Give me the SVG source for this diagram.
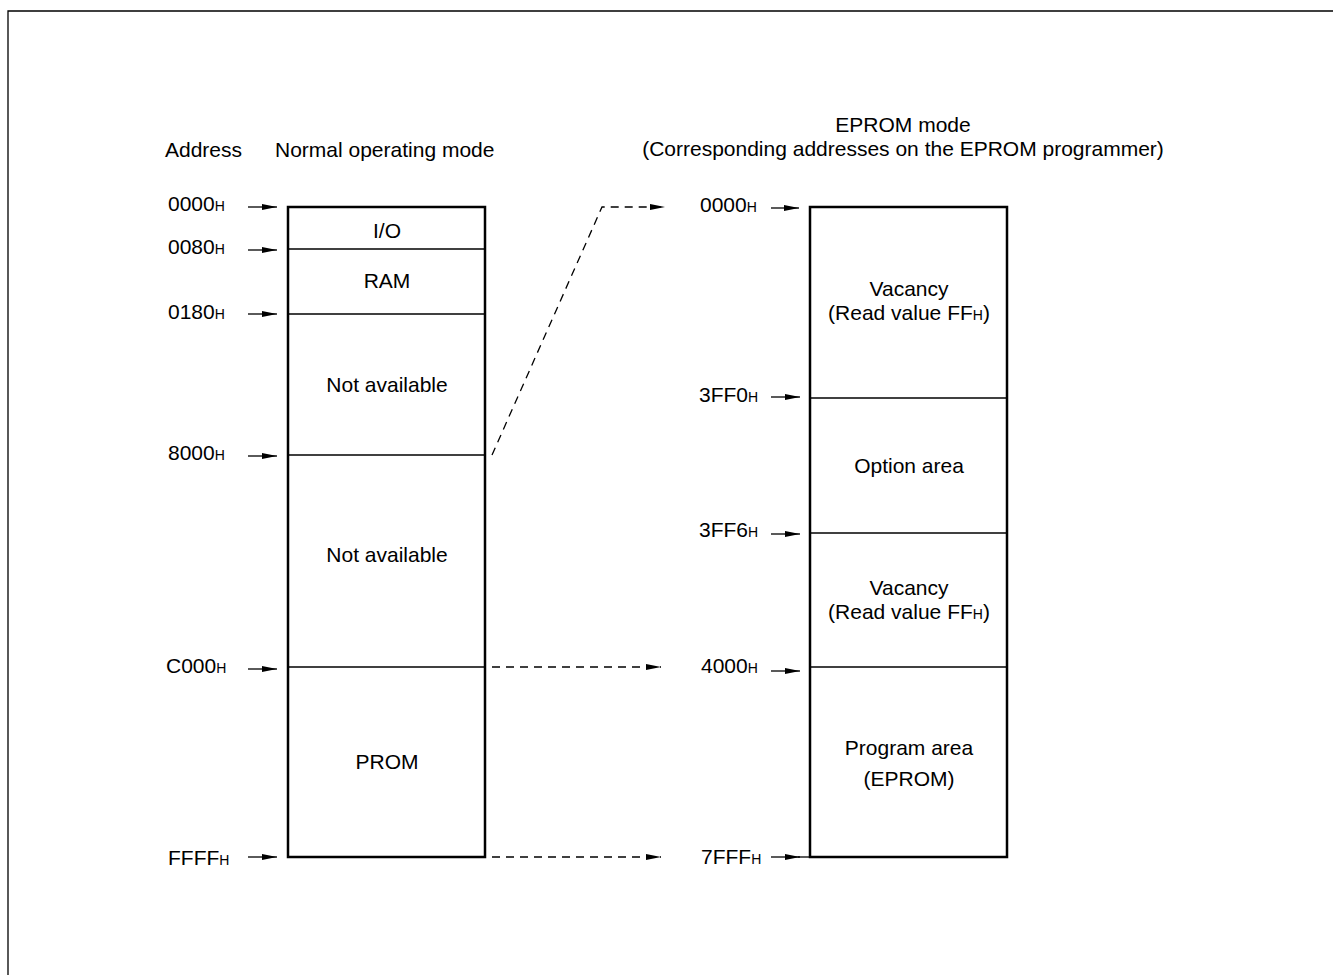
<svg xmlns="http://www.w3.org/2000/svg" width="1333" height="975" viewBox="0 0 1333 975">
<defs>
<style>
text{font-family:"Liberation Sans",Arial,sans-serif;font-size:21px;fill:#000}
.c{text-anchor:middle}
.s{font-size:14px}
.box{fill:#fff;stroke:#000;stroke-width:2.5}
.div{stroke:#000;stroke-width:1.3;fill:none}
.arr{stroke:#000;stroke-width:1.3;fill:none;marker-end:url(#ah)}
.dash{stroke:#000;stroke-width:1.3;fill:none;stroke-dasharray:8,6;marker-end:url(#ah)}
</style>
<marker id="ah" viewBox="0 0 15 7" refX="15" refY="3.5" markerWidth="15" markerHeight="7" markerUnits="userSpaceOnUse" orient="auto">
<path d="M0,0.5 L15,3.5 L0,6.5 Z" fill="#000"/>
</marker>
</defs>
<rect width="1333" height="975" fill="#fff"/>
<path d="M8,975 V11 H1333" fill="none" stroke="#000" stroke-width="1.3"/>

<g id="headers">
<text x="165" y="157">Address</text>
<text x="275" y="157">Normal operating mode</text>
<text class="c" x="903" y="132">EPROM mode</text>
<text class="c" x="903" y="156">(Corresponding addresses on the EPROM programmer)</text>
</g>

<g id="normal-map">
<rect class="box" x="288" y="207" width="197" height="650"/>
<line class="div" x1="288" y1="249" x2="485" y2="249"/>
<line class="div" x1="288" y1="314" x2="485" y2="314"/>
<line class="div" x1="288" y1="455" x2="485" y2="455"/>
<line class="div" x1="288" y1="667" x2="485" y2="667"/>
<text class="c" x="387" y="238">I/O</text>
<text class="c" x="387" y="288">RAM</text>
<text class="c" x="387" y="392">Not available</text>
<text class="c" x="387" y="562">Not available</text>
<text class="c" x="387" y="769">PROM</text>
</g>

<g id="normal-addresses">
<text x="168" y="211">0000<tspan class="s">H</tspan></text>
<text x="168" y="254">0080<tspan class="s">H</tspan></text>
<text x="168" y="319">0180<tspan class="s">H</tspan></text>
<text x="168" y="460">8000<tspan class="s">H</tspan></text>
<text x="166" y="673">C000<tspan class="s">H</tspan></text>
<text x="168" y="865">FFFF<tspan class="s">H</tspan></text>
</g>

<g id="eprom-addresses">
<text x="700" y="212">0000<tspan class="s">H</tspan></text>
<text x="699" y="402">3FF0<tspan class="s">H</tspan></text>
<text x="699" y="537">3FF6<tspan class="s">H</tspan></text>
<text x="701" y="673">4000<tspan class="s">H</tspan></text>
<text x="701" y="864">7FFF<tspan class="s">H</tspan></text>
</g>

<g id="eprom-map">
<rect class="box" x="810" y="207" width="197" height="650"/>
<line class="div" x1="810" y1="398" x2="1007" y2="398"/>
<line class="div" x1="810" y1="533" x2="1007" y2="533"/>
<line class="div" x1="810" y1="667" x2="1007" y2="667"/>
<text class="c" x="909" y="296">Vacancy</text>
<text class="c" x="909" y="320">(Read value FF<tspan class="s">H</tspan>)</text>
<text class="c" x="909" y="473">Option area</text>
<text class="c" x="909" y="595">Vacancy</text>
<text class="c" x="909" y="619">(Read value FF<tspan class="s">H</tspan>)</text>
<text class="c" x="909" y="755">Program area</text>
<text class="c" x="909" y="786">(EPROM)</text>
</g>

<g id="connectors">
<line class="arr" x1="248" y1="207" x2="277" y2="207"/>
<line class="arr" x1="248" y1="250" x2="277" y2="250"/>
<line class="arr" x1="248" y1="314" x2="277" y2="314"/>
<line class="arr" x1="248" y1="456" x2="277" y2="456"/>
<line class="arr" x1="248" y1="669" x2="277" y2="669"/>
<line class="arr" x1="248" y1="857" x2="277" y2="857"/>
<line class="arr" x1="771" y1="208" x2="799" y2="208"/>
<line class="arr" x1="771" y1="397" x2="800" y2="397"/>
<line class="arr" x1="771" y1="534" x2="800" y2="534"/>
<line class="arr" x1="771" y1="671" x2="800" y2="671"/>
<line class="arr" x1="771" y1="857" x2="800" y2="857"/>
<line class="div" x1="798" y1="857" x2="810" y2="857"/>
<path class="dash" d="M492,455 L602,207 H665"/>
<line class="dash" x1="492" y1="667" x2="661" y2="667"/>
<line class="dash" x1="492" y1="857" x2="661" y2="857"/>
</g>
</svg>
